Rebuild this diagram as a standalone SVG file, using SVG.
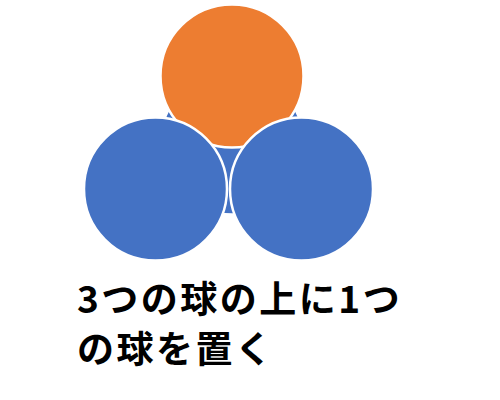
<svg xmlns="http://www.w3.org/2000/svg" width="500" height="400" viewBox="0 0 500 400">
<style>
.blue{fill:#4472C4;stroke:#fff;stroke-width:2.5}
.orange{fill:#ED7D31;stroke:#fff;stroke-width:2.5}
.t{font-family:"Noto Sans CJK JP","Noto Sans",sans-serif;font-weight:bold;font-size:37px;fill:#000;letter-spacing:2.5px}
</style>
<rect width="500" height="400" fill="#fff"/>
<g id="ball-back"><circle class="blue" cx="232" cy="143" r="71.5"/></g>
<g id="ball-top"><circle class="orange" cx="232" cy="76" r="71.5"/></g>
<g id="ball-left"><circle class="blue" cx="155.5" cy="189" r="71.5"/></g>
<g id="ball-right"><circle class="blue" cx="301.5" cy="189" r="71.5"/></g>
<g id="caption">
<text class="t" x="77" y="313">3つの球の上に1つ</text>
<text class="t" x="77" y="363">の球を置く</text>
</g>
</svg>
